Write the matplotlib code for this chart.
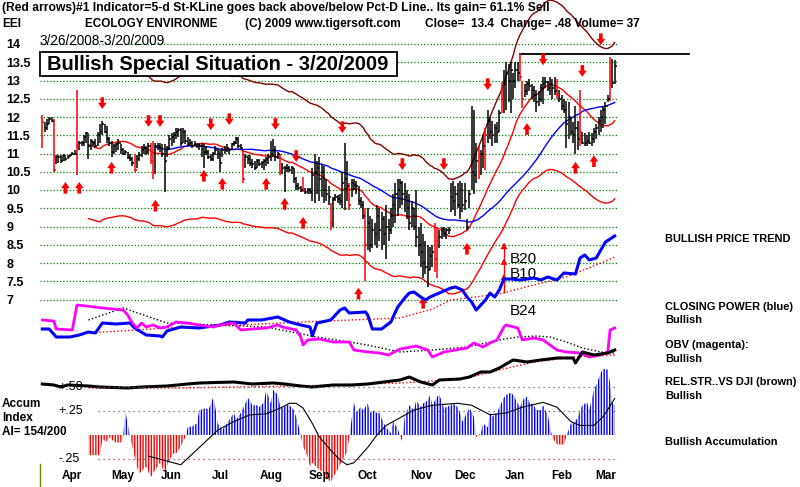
import numpy as np
import pandas as pd
import matplotlib
matplotlib.use("Agg")
import matplotlib.pyplot as plt
from matplotlib.patches import Rectangle
from matplotlib.lines import Line2D

plt.rcParams['font.family'] = ['Liberation Sans', 'DejaVu Sans']
plt.rcParams['hatch.linewidth'] = 1.0

# daily bars, 3/26/2008 - 3/20/2009 (249 trading days)
closes = [11.85, 11.7, 11.8, 11.95,
          11.9, 10.55, 10.9, 10.9, 10.8, 10.95, 10.85, 10.9, 10.95, 11.0, 11.0, 11.2, 11.3, 11.3, 11.45, 11.55, 11.2, 11.35, 11.3, 11.2, 11.5, 11.6,
          11.8, 11.6, 11.4, 11.3, 11.05, 11.2, 11.25, 11.3, 11.1, 11.0, 11.05, 10.9, 10.85, 10.75, 10.55, 10.85, 10.95, 11.1, 11.15, 11.05, 11.2,
          10.8, 10.5, 11.2, 11.2, 11.15, 11.0, 10.8, 11.15, 11.4, 11.45, 11.5, 11.6, 11.65, 11.3, 11.6, 11.35, 11.25, 11.3, 11.2, 11.25, 11.2,
          11.2, 11.2, 11.05, 11.05, 10.9, 10.85, 11.0, 11.1, 11.0, 10.75, 11.1, 11.1, 11.15, 11.1, 11.25, 11.3, 11.4, 11.2, 11.15, 10.3, 10.9, 10.85,
          10.75, 10.7, 10.6, 10.8, 10.7, 10.75, 10.8, 10.85, 10.9, 11.0, 11.1, 10.9, 11.0, 10.5, 10.6, 10.6, 10.6, 10.55, 10.6, 10.3, 10.1,
          10.05, 10.0, 10.0, 9.95, 10.0, 9.95, 10.4, 10.5, 10.6, 10.3, 10.5, 10.0, 9.9, 9.8, 9.1, 9.75, 9.8, 9.75, 9.7, 10.2, 10.3,
          10.1, 9.6, 10.2, 10.15, 10.1, 9.7, 9.6, 9.3, 8.5, 9.1, 8.5, 8.9, 8.8, 9.3, 8.9, 9.2, 8.8, 9.0, 8.9, 9.3, 9.6, 9.9, 10.0,
          10.2, 9.9, 9.8, 9.5, 9.1, 9.5, 9.0, 8.7, 8.5, 8.3, 8.0, 7.9, 7.8, 8.2, 8.3, 8.1, 8.6, 8.7, 8.9,
          8.8, 8.9, 8.9, 9.8, 9.7, 9.9, 9.6, 10.0, 9.6, 9.7, 9.0, 9.9, 10.5, 10.4, 10.8, 10.9, 11.0, 11.2, 11.5, 11.9, 11.6, 11.5,
          11.7, 11.6, 12.1, 12.5, 12.9, 13.2, 13.0, 13.3, 13.0, 13.3, 13.2, 13.1, 12.5, 12.7, 12.9, 12.85, 12.75, 12.6, 12.4, 12.5,
          12.8, 12.9, 12.95, 12.8, 12.9, 12.8, 12.7, 12.6, 12.5, 12.3, 12.2, 11.8, 12.0, 11.6, 11.5, 11.7, 11.4, 11.6, 11.3,
          11.3, 11.35, 11.3, 11.4, 11.6, 11.7, 11.9, 12.0, 12.2, 12.3, 12.5, 12.9, 12.92, 13.4]
highs = [12.05, 11.85, 11.95, 12.0,
         12.0, 11.95, 10.95, 10.95, 10.95, 10.95, 10.95, 10.95, 11.0, 11.05, 11.1, 12.75, 11.35, 11.35, 11.5, 11.6, 11.55, 11.4, 11.35, 11.4, 11.6, 11.8,
         11.9, 11.8, 11.75, 11.45, 11.35, 11.25, 11.3, 11.4, 11.25, 11.15, 11.1, 11.05, 11.0, 10.9, 11.0, 10.95, 11.05, 11.2, 11.25, 11.2, 11.3,
         11.3, 11.35, 11.3, 11.3, 11.3, 11.25, 11.25, 11.2, 11.5, 11.55, 11.6, 11.7, 11.7, 11.7, 11.7, 11.65, 11.45, 11.4, 11.35, 11.35, 11.3,
         11.3, 11.3, 11.25, 11.2, 11.1, 11.0, 11.05, 11.2, 11.15, 11.1, 11.15, 11.2, 11.25, 11.15, 11.3, 11.35, 11.45, 11.45, 11.25, 11.1, 11.0, 10.95,
         10.95, 10.85, 10.8, 10.85, 10.85, 10.8, 10.85, 10.9, 11.0, 11.35, 11.4, 11.2, 11.05, 11.0, 10.75, 10.65, 10.7, 10.65, 10.65, 10.6, 10.35,
         10.2, 10.1, 10.35, 10.05, 10.05, 10.05, 10.6, 11.0, 10.8, 10.9, 10.7, 10.65, 10.3, 10.1, 9.65, 9.8, 9.9, 9.85, 9.9, 10.5, 11.3,
         10.8, 10.2, 10.3, 10.3, 10.25, 10.1, 9.8, 9.7, 9.5, 9.5, 9.3, 9.2, 9.1, 9.6, 9.5, 9.4, 9.3, 9.6, 9.2, 9.5, 9.9, 10.2, 10.3,
         10.3, 10.25, 10.2, 10.0, 9.9, 9.7, 9.5, 10.0, 9.0, 9.1, 8.8, 8.6, 8.5, 8.45, 8.5, 9.1, 9.0, 8.9, 9.0,
         9.0, 8.95, 9.0, 10.2, 10.25, 10.1, 10.2, 10.25, 10.2, 10.2, 9.2, 10.0, 12.3, 12.2, 11.3, 11.2, 11.1, 11.5, 11.7, 12.2, 12.0, 11.9,
         11.8, 11.85, 12.2, 12.95, 13.3, 13.5, 13.45, 13.5, 13.2, 13.5, 13.5, 13.75, 13.0, 12.9, 13.0, 13.05, 12.9, 12.85, 12.75, 12.7,
         12.9, 13.1, 13.1, 13.0, 13.1, 13.05, 13.1, 13.05, 12.75, 12.6, 12.5, 12.45, 12.4, 12.0, 11.85, 12.3, 11.9, 12.75, 11.6,
         11.55, 11.5, 11.6, 11.55, 11.7, 11.8, 12.0, 12.2, 12.3, 12.4, 12.6, 13.65, 13.6, 13.55]
lows = [11.15, 11.6, 11.65, 11.8,
        11.85, 10.5, 10.7, 10.75, 10.75, 10.8, 10.8, 10.85, 10.9, 10.95, 10.95, 10.4, 11.1, 11.2, 11.2, 11.3, 10.85, 11.1, 11.2, 11.15, 11.2, 11.3,
        11.5, 11.55, 11.3, 11.2, 10.9, 11.0, 11.05, 11.1, 11.0, 10.95, 10.95, 10.85, 10.8, 10.65, 10.5, 10.6, 10.8, 10.9, 11.0, 10.95, 11.0,
        10.7, 10.3, 10.45, 11.1, 11.05, 10.9, 9.95, 10.9, 11.1, 11.2, 11.3, 11.4, 11.45, 11.2, 11.3, 11.25, 11.2, 11.2, 11.15, 11.2, 11.15,
        11.1, 10.9, 10.6, 10.95, 10.85, 10.8, 10.8, 10.95, 10.85, 10.5, 10.9, 11.0, 11.05, 11.0, 11.1, 11.2, 11.25, 11.15, 11.1, 10.2, 10.6, 10.7,
        10.65, 10.6, 10.55, 10.6, 10.65, 10.6, 10.55, 10.65, 10.7, 10.8, 10.9, 10.8, 10.85, 10.4, 10.45, 9.95, 10.5, 10.5, 10.45, 10.2, 10.0,
        10.0, 9.95, 9.95, 9.9, 9.9, 9.9, 9.7, 9.65, 9.9, 9.7, 9.8, 9.65, 9.7, 9.6, 8.9, 9.0, 9.7, 9.65, 9.6, 9.5, 9.45,
        9.7, 9.45, 9.8, 10.0, 9.9, 9.6, 9.5, 9.2, 7.5, 8.35, 8.3, 8.4, 8.5, 8.4, 8.6, 8.35, 8.5, 8.1, 8.6, 8.8, 9.0, 9.1, 9.3,
        9.5, 9.6, 9.4, 9.2, 8.9, 9.0, 8.9, 8.45, 8.2, 7.9, 7.6, 7.7, 7.35, 7.8, 7.9, 7.75, 7.6, 8.4, 8.65,
        8.7, 8.65, 8.8, 9.4, 9.45, 9.3, 9.5, 9.2, 9.4, 9.45, 8.9, 9.5, 10.0, 9.9, 10.2, 10.3, 10.4, 10.6, 10.55, 11.3, 11.4, 11.2,
        11.3, 11.3, 11.6, 12.1, 12.1, 12.2, 12.4, 12.1, 12.5, 12.8, 13.0, 13.0, 12.25, 12.55, 12.6, 12.7, 12.5, 12.4, 12.15, 12.3,
        12.4, 12.35, 12.8, 12.7, 12.6, 12.5, 12.6, 12.5, 12.4, 12.2, 12.1, 11.15, 11.4, 11.5, 11.3, 11.0, 11.1, 11.2, 11.25,
        11.2, 11.2, 11.25, 11.2, 11.3, 11.4, 11.5, 11.6, 11.7, 11.8, 12.4, 12.45, 12.8, 12.9]
red_bars = [0, 5, 15, 40, 47, 48, 87, 103, 113, 125, 133, 140, 170, 171, 189, 192, 199, 207, 208, 223, 233, 246]

month_names = ['Apr', 'May', 'Jun', 'Jul', 'Aug', 'Sep', 'Oct', 'Nov', 'Dec', 'Jan', 'Feb', 'Mar']
month_starts = [4, 26, 47, 68, 90, 111, 132, 155, 174, 196, 216, 235]

# signal arrows (day, price of arrow tip)
down_days = [26, 46, 51, 73, 81, 101, 110, 130, 156, 174, 193, 217, 234, 242]
down_tips = [12.22, 11.73, 11.73, 11.64, 11.78, 11.65, 10.77, 11.56, 10.55, 10.55, 12.74, 13.42, 13.1, 13.97]
up_days = [10, 16, 30, 49, 70, 78, 97, 105, 113, 137, 165, 184, 210, 231, 239]
up_tips = [10.22, 10.22, 10.77, 9.73, 10.55, 10.33, 10.33, 9.78, 9.26, 7.32, 7.07, 8.55, 11.83, 10.77, 10.95]
b_day = 200
b_tips = [8.55, 8.12, 7.7]
b_low = 7.18
b_labels = ['B20', 'B10', 'B24']
b_label_prices = [8.1, 7.7, 6.68]
resist_level = 13.73
resist_days = [207, 280]

# closing power (blue) and its MA
cp_days = [0, 3, 6, 12, 16, 20, 23, 26, 32, 38, 40, 45, 51, 52, 54, 60, 68, 77, 81, 88, 89, 95, 102, 107, 112, 116, 117, 119, 125, 129, 131, 133, 140, 141, 143, 147, 151, 154, 157, 159, 161, 164, 166, 168, 172, 177, 179, 182, 184, 186, 188, 192, 194, 196, 198, 200, 203, 207, 213, 216, 219, 223, 226, 231, 233, 235, 237, 240, 242, 244, 246, 248]
cp_vals = [11, 11, 3, 3, 5, 8, 7, 17, 16, 17, 12, 5, 4, 3, 9, 13, 12, 15, 18, 17, 20, 20, 23, 18, 15, 13, 4, 17, 20, 30, 32, 27, 28, 25, 11, 11, 18, 33, 42, 47, 48, 43, 40, 43, 47, 52, 53, 50, 43, 38, 30, 40, 47, 43, 50, 61, 61, 60, 62, 60, 63, 60, 67, 66, 82, 85, 80, 82, 90, 98, 101, 104]
cp_ma_days = [20, 54, 68, 112, 155, 169, 177, 198, 213, 227, 242, 248]
cp_ma_vals = [7, 12, 13, 18, 22, 31, 40, 46, 55, 63, 77, 83]

# on-balance volume (magenta) and its MA
obv_days = [0, 5, 6, 13, 15, 19, 26, 35, 37, 39, 41, 43, 45, 48, 51, 54, 58, 63, 68, 74, 77, 83, 86, 91, 97, 102, 104, 110, 112, 113, 115, 120, 126, 133, 135, 141, 146, 150, 155, 162, 167, 169, 174, 184, 187, 191, 194, 197, 200, 201, 206, 208, 213, 217, 223, 227, 233, 237, 242, 245, 246, 248]
obv_vals = [40, 39, 31, 30, 55, 54, 52, 50, 45, 37, 32, 37, 33, 35, 32, 33, 38, 37, 35, 33, 35, 37, 30, 31, 32, 35, 33, 30, 23, 15, 20, 21, 18, 18, 10, 8, 7, 5, 11, 14, 10, 3, 8, 12, 17, 13, 17, 20, 33, 35, 32, 20, 22, 20, 10, 8, 7, 3, 5, 8, 30, 32]
obv_ma_days = [20, 35, 54, 76, 97, 119, 141, 155, 169, 184, 198, 206, 214, 220, 227, 234, 242, 248]
obv_ma_vals = [40, 52, 37, 35, 33, 23, 15, 8, 10, 13, 20, 23, 24, 23, 18, 12, 8, 7]

# relative strength vs DJI (black) and its MA
rs_days = [0, 5, 8, 11, 20, 25, 37, 43, 54, 63, 68, 83, 91, 100, 105, 112, 117, 126, 134, 141, 148, 155, 159, 164, 169, 172, 181, 185, 190, 194, 198, 204, 210, 216, 223, 230, 231, 234, 239, 245, 248]
rs_vals = [6, 5, 3, 5, 4, 3, 2, 3, 4, 6, 7, 8, 6, 7, 6, 4, 3, 5, 5, 6, 8, 10, 13, 8, 5, 10, 11, 13, 18, 18, 22, 30, 28, 30, 32, 32, 27, 38, 35, 37, 40]
rs_ma_days = [20, 60, 110, 155, 169, 184, 198, 213, 227, 242, 248]
rs_ma_vals = [2, 2, 4, 7, 9, 12, 20, 28, 32, 35, 35]

# accumulation index
acc_days = [20, 25, 26, 28, 29, 31, 32, 34, 35, 36, 37, 38, 39, 41, 42, 45, 47, 49, 51, 53, 55, 57, 58, 60, 62, 63, 65, 67,
            68, 71, 72, 74, 75, 76, 78, 80, 83, 84, 86, 88, 89, 91, 93, 94, 96, 97, 99, 100, 102, 103, 104, 106, 107, 109, 110,
            112, 113, 115, 116, 117, 119, 120, 122, 123, 125, 126, 128, 129, 130, 132, 133, 135, 136, 138, 139, 141, 142, 143, 145, 146,
            148, 149, 151, 152, 154, 155, 156, 157, 159, 161, 162, 164, 165, 167, 168, 169, 171, 172, 174, 175, 177, 178, 180, 181,
            182, 184, 185, 187, 188, 190, 191, 193, 194, 195, 197, 198, 200, 201, 203, 204, 206, 207, 208, 210, 211, 213, 214, 216,
            217, 219, 220, 221, 223, 226, 227, 229, 230, 232, 233, 234, 236, 237, 239, 240, 242, 243, 245, 246, 247, 248]
acc_vals = [-0.21, -0.21, -0.05, -0.07, -0.02, -0.07, -0.08, -0.08, -0.02, 0.24, 0.12, -0.02, -0.12, -0.33, -0.40, -0.33, -0.44, -0.36, -0.29, -0.39, -0.26, -0.19, -0.19, -0.12, -0.02, 0.08, 0.09, 0.12,
            0.26, 0.28, 0.26, 0.39, 0.28, 0.12, 0.05, 0.12, 0.23, 0.16, 0.23, 0.33, 0.39, 0.31, 0.31, 0.29, 0.34, 0.47, 0.33, 0.47, 0.42, 0.31, 0.28, 0.31, 0.31, 0.26, 0.19,
            0.0, -0.12, -0.23, -0.33, -0.29, -0.34, -0.36, -0.40, -0.45, -0.49, -0.44, -0.36, -0.31, -0.26, -0.18, -0.02, 0.34, 0.24, 0.29, 0.26, 0.33, 0.23, 0.26, 0.23, 0.23,
            0.12, 0.08, 0.02, 0.14, 0.07, -0.02, -0.07, 0.19, 0.31, 0.26, 0.36, 0.29, 0.33, 0.36, 0.42, 0.31, 0.40, 0.42, 0.28, 0.29, 0.31, 0.33, 0.29, 0.23,
            0.14, 0.23, 0.29, 0.19, -0.02, 0.02, 0.12, 0.08, 0.23, 0.19, 0.23, 0.29, 0.39, 0.42, 0.44, 0.42, 0.33, 0.29, 0.36, 0.40, 0.34, 0.31, 0.26, 0.26,
            0.31, 0.21, 0.08, -0.03, -0.10, -0.10, -0.02, 0.12, 0.12, 0.18, 0.26, 0.31, 0.34, 0.26, 0.47, 0.52, 0.65, 0.69, 0.68, 0.54, 0.33, 0.31]
acc_ma_days = [46, 60, 68, 76, 83, 90, 97, 104, 107, 110, 113, 117, 120, 125, 129, 132, 135, 138, 141, 145, 149, 155, 161, 169, 180, 186, 194, 201, 208, 217, 223, 229, 233, 239, 243, 248]
acc_ma_vals = [-0.22, -0.31, -0.13, 0.05, 0.14, 0.21, 0.22, 0.29, 0.33, 0.33, 0.28, 0.12, -0.02, -0.16, -0.26, -0.31, -0.29, -0.21, -0.13, 0.0, 0.10, 0.18, 0.26, 0.31, 0.33, 0.31, 0.21, 0.23, 0.29, 0.34, 0.29, 0.14, 0.10, 0.10, 0.19, 0.38]
acc_levels = [0.5, 0.25, -0.25]
acc_level_labels = ['+.50', '+.25', '-.25']

W, H = 800, 487
X0, X1 = 40, 617          # plot area left/right in pixels
DOT = (0, (1, 1.6))


def strip(top, bottom, base, scale):
    # axes covering pixel rows top..bottom, value v drawn at pixel row base - v*scale
    a = fig.add_axes([X0 / W, 1 - bottom / H, (X1 - X0) / W, (bottom - top) / H])
    a.set_xlim(-1, 249)
    a.set_ylim((base - bottom) / scale, (base - top) / scale)
    a.patch.set_visible(False)
    for s in a.spines.values():
        s.set_visible(False)
    a.set_xticks([])
    a.set_yticks([])
    return a


def arrow(a, d, tip, up, length=0.32, hw=0.62):
    tail = tip - length if up else tip + length
    a.annotate('', xy=(d, tip), xytext=(d, tail), annotation_clip=False,
               arrowprops=dict(arrowstyle='simple,head_length=0.45,head_width=%g,tail_width=0.26' % hw,
                               color='red', lw=0, shrinkA=0, shrinkB=0))


fig = plt.figure(figsize=(W / 100, H / 100), dpi=100)
fig.patch.set_facecolor('white')

# ---- price panel: 14 at px 44, 36.5 px per dollar ----
ax = strip(0, 310, 44 + 14 * 36.5, 36.5)
ax.patch.set_visible(True)
ax.set_yticks(np.arange(7, 14.01, 0.5))
ax.set_yticklabels(['%g' % v for v in np.arange(7, 14.01, 0.5)])
ax.tick_params(axis='y', length=0, pad=24, labelsize=9)
for t in ax.get_yticklabels():
    t.set_ha('left')
    t.set_fontweight('bold')
ax.grid(axis='y', color='#008000', linestyle=DOT, lw=0.9)
ax.set_axisbelow(True)

days = np.arange(len(closes))
bar_cols = ['red' if i in red_bars else 'black' for i in days]
ax.vlines(days, lows, highs, colors=bar_cols, lw=1.1, zorder=3)
ax.hlines(closes, days, days + 0.9, colors=bar_cols, lw=1.1, zorder=3)

c = pd.Series(closes)
ma21 = c.rolling(21).mean()
ma50 = c.rolling(50).mean()
ax.plot(days, ma21 * 1.18, color='#800000', lw=1, zorder=2)
ax.plot(days, ma21, color='red', lw=1, zorder=2)
ax.plot(days, ma21 * 0.82, color='red', lw=1, zorder=2)
ax.plot(days, ma50, color='blue', lw=1, zorder=2)
ax.plot(resist_days, [resist_level] * 2, color='black', lw=1.3, clip_on=False, zorder=2)

for d, p in zip(down_days, down_tips):
    arrow(ax, d, p, False)
for d, p in zip(up_days, up_tips):
    arrow(ax, d, p, True)
ax.vlines(b_day, b_low, b_tips[0], colors='red', lw=1, zorder=4)
for p in b_tips:
    arrow(ax, b_day, p, True, length=0.05, hw=0.5)
for lab, p in zip(b_labels, b_label_prices):
    ax.text(b_day + 2.6, p, lab, fontsize=11, va='center', ha='left')

# ---- indicator strips ----
ax_cp = strip(225, 365, 340, 1)
ax_cp.plot(cp_ma_days, cp_ma_vals, color='red', lw=1, linestyle=DOT)
ax_cp.plot(cp_days, cp_vals, color='blue', lw=2.2)

ax_obv = strip(290, 370, 360, 1)
ax_obv.plot(obv_ma_days, obv_ma_vals, color='black', lw=1, linestyle=DOT)
ax_obv.plot(obv_days, obv_vals, color='#ff00ff', lw=2)

ax_rs = strip(335, 400, 390, 1)
ax_rs.plot(rs_ma_days, rs_ma_vals, color='red', lw=1, linestyle=DOT)
ax_rs.plot(rs_days, rs_vals, color='black', lw=2.2)

ax_acc = strip(360, 487, 435, 96)
acc = np.array(acc_vals)
ax_acc.fill_between(acc_days, 0, acc, where=acc >= 0, interpolate=True, facecolor='none',
                    edgecolor='blue', hatch='||||||', linewidth=0)
ax_acc.fill_between(acc_days, 0, acc, where=acc <= 0, interpolate=True, facecolor='none',
                    edgecolor='red', hatch='||||||', linewidth=0)
ax_acc.plot(acc_ma_days, acc_ma_vals, color='black', lw=0.8)
ax_acc.hlines(acc_levels[:2], 24, 248, colors='#606060', linestyles=(0, (1, 3)), lw=0.9)
ax_acc.hlines(acc_levels[2], 24, 248, colors='#a0306a', linestyles=(0, (1, 3)), lw=0.9)
for v, lab in zip(acc_levels, acc_level_labels):
    ax_acc.text(6.8, v, lab, fontsize=9, va='center', ha='left')
for m, s in zip(month_names, month_starts):
    ax_acc.text(s + 9, 0.087, m, transform=ax_acc.get_xaxis_transform(), ha='center', va='center',
                fontsize=8.5, fontweight='bold')

# ---- header, title box and side notes ----
def ftext(x, y, s, **kw):
    fig.text(x / W, 1 - y / H, s, va='center', ha='left', **kw)


ftext(2, 8, '(Red arrows)#1 Indicator=5-d St-KLine goes back above/below Pct-D Line.. Its gain= 61.1% Sell',
      fontsize=8.7, fontweight='bold')
ftext(2, 24, 'EEI', fontsize=8.6, fontweight='bold')
ftext(85, 24, 'ECOLOGY ENVIRONME', fontsize=8.5, fontweight='bold')
ftext(245, 24, '(C) 2009 www.tigersoft.com', fontsize=8.6, fontweight='bold')
ftext(425, 24, 'Close=  13.4  Change= .48 Volume= 37', fontsize=8.6, fontweight='bold')
ftext(40, 41, '3/26/2008-3/20/2009', fontsize=9.8)

fig.add_artist(Rectangle((40 / W, 1 - 76 / H), 357 / W, 24 / H, transform=fig.transFigure,
                         facecolor='white', edgecolor='black', lw=1.3, zorder=5))
fig.text(218 / W, 1 - 64 / H, 'Bullish Special Situation - 3/20/2009', ha='center', va='center',
         fontsize=14.5, fontweight='bold', zorder=6)

# side notes (kept just inside the right edge)
for y, s in [(239, 'BULLISH PRICE TREND'), (307, 'CLOSING POWER (blue)'), (320, 'Bullish'),
             (345, 'OBV (magenta):'), (359, 'Bullish'), (382, 'REL.STR..VS DJI (brown)'),
             (396, 'Bullish'), (442, 'Bullish Accumulation')]:
    ftext(665, y, s, fontsize=7.9, fontweight='bold')

ftext(2, 404, 'Accum', fontsize=8.5, fontweight='bold')
ftext(2, 418, 'Index', fontsize=8.5, fontweight='bold')
ftext(2, 432, 'AI= 154/200', fontsize=8.5, fontweight='bold')
fig.add_artist(Line2D([40 / W, 40 / W], [1 - 464 / H, 0], color='#808000', lw=1))

fig.savefig('out.png', dpi=100, facecolor='white')
